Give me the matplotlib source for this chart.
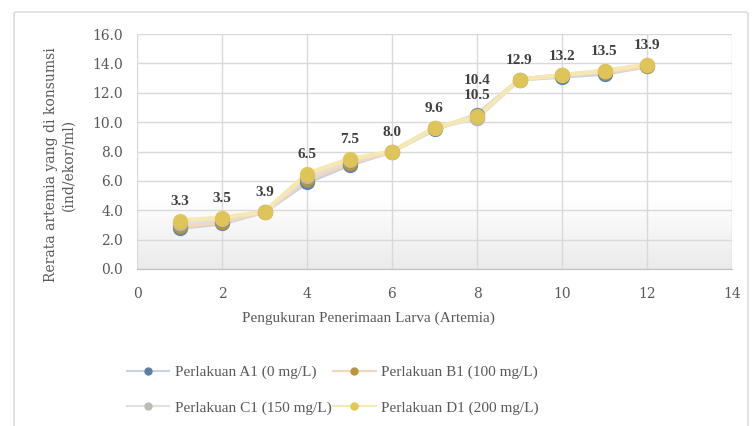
import numpy as np
import matplotlib
matplotlib.use("Agg")
import matplotlib.pyplot as plt
from matplotlib.lines import Line2D
from matplotlib.patches import FancyBboxPatch

plt.rcParams['font.family'] = ['Liberation Serif', 'DejaVu Serif']

# Measurement index (Artemia uptake measurement)
x = [1, 2, 3, 4, 5, 6, 7, 8, 9, 10, 11, 12]

a1 = [2.8, 3.1, 3.9, 5.9, 7.1, 8.0, 9.5, 10.5, 12.9, 13.1, 13.3, 13.8]
b1 = [2.9, 3.2, 3.9, 6.1, 7.2, 8.0, 9.6, 10.3, 12.9, 13.2, 13.4, 13.8]
c1 = [3.1, 3.4, 3.9, 6.3, 7.4, 8.0, 9.6, 10.3, 12.9, 13.2, 13.5, 13.9]
d1 = [3.3, 3.5, 3.9, 6.5, 7.5, 8.0, 9.6, 10.4, 12.9, 13.2, 13.5, 13.9]

series_names = ["Perlakuan A1 (0 mg/L)", "Perlakuan B1 (100 mg/L)",
                "Perlakuan C1 (150 mg/L)", "Perlakuan D1 (200 mg/L)"]

y_ticks = [0, 2, 4, 6, 8, 10, 12, 14, 16]
x_ticks = [0, 2, 4, 6, 8, 10, 12, 14]

fig = plt.figure(figsize=(7.52, 4.26), dpi=100)
W, H = 752, 426

# chart frame (open at the bottom edge of the image)
frame = FancyBboxPatch((14 / W, -10 / H), 734 / W, 424 / H,
                       boxstyle="round,pad=0,rounding_size=0.004",
                       transform=fig.transFigure, facecolor="none",
                       edgecolor="#dcdcdc", linewidth=1.2, zorder=-1)
fig.patches.append(frame)

ax = fig.add_axes([137 / W, 1 - 269 / H, (732 - 137) / W, (269 - 34) / H])
ax.set_xlim(0, 14)
ax.set_ylim(0, 16)

# soft grey gradient at the bottom of the plot area
grad = np.linspace(0, 1, 256).reshape(-1, 1)
shade = np.clip(1 - grad / 0.3, 0, 1)
rgb = np.ones((256, 1, 3))
for i in range(3):
    rgb[:, :, i] = 1 - 0.08 * shade
ax.imshow(rgb, extent=[0, 14, 0, 16], origin="lower", aspect="auto", zorder=0)

ax.set_xticks(x_ticks)
ax.set_yticks(y_ticks)
ax.set_yticklabels([f"{v:.1f}" for v in y_ticks])
ax.grid(True, color="#d9d9d9", linewidth=1.0, zorder=1)
for s in ["top", "right", "left"]:
    ax.spines[s].set_visible(False)
ax.spines["bottom"].set_color("#bfbfbf")
ax.tick_params(length=0, labelsize=10, colors="#595959")
ax.tick_params(axis="x", pad=13)
ax.tick_params(axis="y", pad=10)
for lab in ax.get_xticklabels() + ax.get_yticklabels():
    lab.set_family("DejaVu Serif")

styles = [
    (a1, "#c9d3de", "#5b7fa3"),
    (b1, "#f4d6bd", "#b7963e"),
    (c1, "#e2e0dc", "#bdbcb4"),
    (d1, "#f6e8b0", "#e2c650"),
]
handles = []
for (vals, lc, mc), name in zip(styles, series_names):
    ax.plot(x, vals, color=lc, linewidth=3, zorder=2, solid_capstyle="round")
    ax.plot(x, vals, linestyle="none", marker="o", markersize=10,
            markerfacecolor=mc, markeredgecolor=mc, alpha=0.9, zorder=3)
    handles.append(Line2D([], [], color=lc, linewidth=1.5, marker="o",
                          markersize=5, markerfacecolor=mc, markeredgecolor=mc,
                          label=name))

for i, (xi, v) in enumerate(zip(x, d1)):
    off = 21 if i == 7 else 9
    ax.annotate(f"{v:.1f}", (xi, v), xytext=(0, off), textcoords="offset points",
                ha="center", va="bottom", fontsize=11, fontweight="bold",
                color="#404040", zorder=5)
ax.annotate(f"{a1[7]:.1f}", (x[7], a1[7]), xytext=(0, 9), textcoords="offset points",
            ha="center", va="bottom", fontsize=11, fontweight="bold",
            color="#404040", zorder=5)

fig.text(60 / W, 1 - 165 / H, "Rerata artemia yang di konsumsi\n(ind/ekor/ml)",
         rotation=90, ha="center", va="center", multialignment="center",
         fontsize=10, family="DejaVu Serif", color="#595959", linespacing=1.35)
fig.text(368 / W, 1 - 318 / H, "Pengukuran Penerimaan Larva (Artemia)",
         ha="center", va="center", fontsize=11, color="#595959")

# row-wise order: A1, B1 / C1, D1
order = [0, 2, 1, 3]
leg = fig.legend(handles=[handles[i] for i in order], ncol=2, loc="center left",
                 bbox_to_anchor=(119 / W, 1 - 390 / H), frameon=False,
                 fontsize=11, handlelength=2.8, handletextpad=0.35,
                 columnspacing=0.1, labelspacing=1.4, borderpad=0)
for t in leg.get_texts():
    t.set_color("#595959")

fig.savefig("out.png", dpi=100)
